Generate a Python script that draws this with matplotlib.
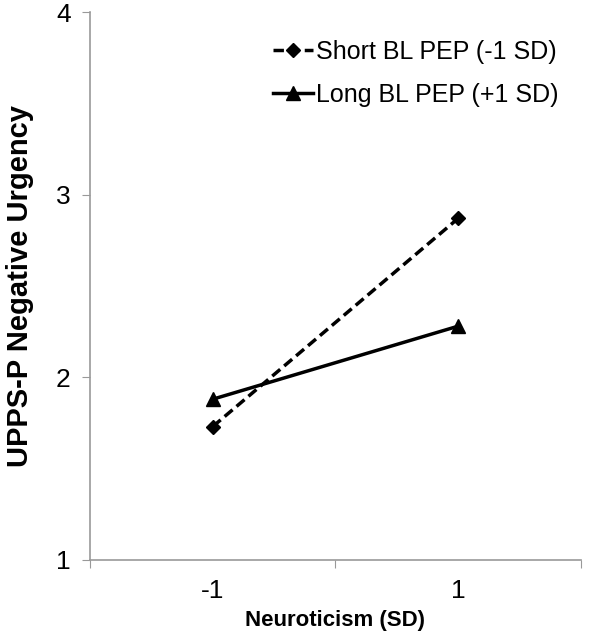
import matplotlib
matplotlib.use("Agg")
from matplotlib import pyplot as plt

plt.rcParams['font.family'] = ['Liberation Sans', 'DejaVu Sans']

categories = ["-1", "1"]
short_bl = [1.73, 2.87]
long_bl = [1.88, 2.28]
y_ticks = [1, 2, 3, 4]

fig = plt.figure(figsize=(6, 6.37), dpi=100)
ax = fig.add_axes([0.15, 0.121, 0.818, 0.86])

x = list(range(len(categories)))
ax.plot(x, short_bl, '--D', color='black', lw=2.5, ms=7, dashes=(3, 1.5),
        label="Short BL PEP (-1 SD)")
ax.plot(x, long_bl, '-^', color='black', lw=2.5, ms=10,
        label="Long BL PEP (+1 SD)")

ax.set_xlim(-0.5, 1.5)
ax.set_ylim(1, 4)
ax.set_yticks(y_ticks)
ax.set_xticks([-0.5, 0.5, 1.5])
ax.set_xticklabels([])
ax.set_xticks(x, minor=True)
ax.set_xticklabels(categories, minor=True)
ax.tick_params(axis='x', which='minor', length=0, pad=14, labelsize=19)
ax.tick_params(axis='x', which='major', length=6, direction='out', color='#999999')
ax.tick_params(axis='y', length=6, direction='out', color='#999999', labelsize=19, pad=8)

for s in ['top', 'right']:
    ax.spines[s].set_visible(False)
for s in ['left', 'bottom']:
    ax.spines[s].set_color('#999999')
    ax.spines[s].set_linewidth(1.2)

ax.set_xlabel("Neuroticism (SD)", fontsize=16, fontweight='bold', labelpad=5)
ax.set_ylabel("UPPS-P Negative Urgency", fontsize=21, fontweight='bold', labelpad=16)

ax.legend(loc='upper right', frameon=False, fontsize=18, handlelength=1.6,
          handletextpad=0.1, labelspacing=0.75, bbox_to_anchor=(1.0, 0.99))

plt.savefig("out.png", dpi=100)
